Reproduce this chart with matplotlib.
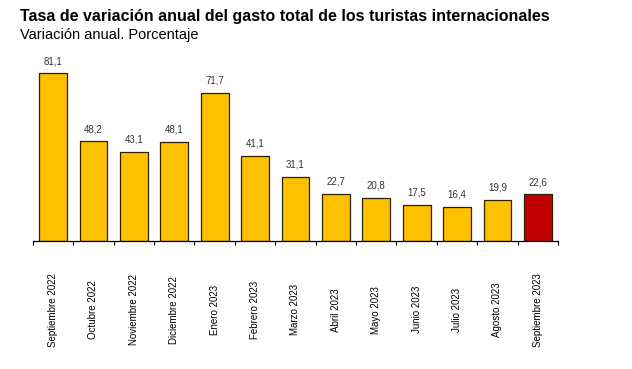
import matplotlib
matplotlib.use("Agg")
import matplotlib.pyplot as plt
from matplotlib.transforms import blended_transform_factory

plt.rcParams['font.family'] = ['Liberation Sans', 'DejaVu Sans']

# Datos
meses = ["Septiembre 2022", "Octubre 2022", "Noviembre 2022", "Diciembre 2022",
         "Enero 2023", "Febrero 2023", "Marzo 2023", "Abril 2023", "Mayo 2023",
         "Junio 2023", "Julio 2023", "Agosto 2023", "Septiembre 2023"]
valores = [81.1, 48.2, 43.1, 48.1, 71.7, 41.1, 31.1, 22.7, 20.8, 17.5, 16.4, 19.9, 22.6]
colores = ["#FFC000"] * 12 + ["#C00000"]

fig = plt.figure(figsize=(6.32, 3.69), dpi=100)
ax = fig.add_axes([0.052, 0.347, 0.831, 0.504])

x = list(range(len(valores)))
ax.bar(x, valores, width=0.69, color=colores, edgecolor="#2b2000", linewidth=0.9, zorder=2)

for xi, v in zip(x, valores):
    ax.text(xi, v + 3.5, f"{v:.1f}".replace(".", ","), ha="center", va="bottom",
            fontsize=7, color="#333333")

ax.set_xlim(-0.5, len(valores) - 0.5)
ax.set_ylim(0, 90)

# Eje
for s in ["top", "right", "left"]:
    ax.spines[s].set_visible(False)
ax.spines["bottom"].set_linewidth(0.9)
ax.set_yticks([])
ax.set_xticks([i - 0.5 for i in range(len(valores) + 1)])
ax.set_xticklabels([])
ax.tick_params(axis="x", length=3, width=0.8, direction="out")

trans = blended_transform_factory(ax.transData, ax.transAxes)
for xi, m in zip(x, meses):
    ax.text(xi, -0.37, m, rotation=90, ha="center", va="center", fontsize=7,
            family=["Liberation Sans Narrow", "Liberation Sans"], transform=trans)

fig.text(0.032, 0.955, "Tasa de variación anual del gasto total de los turistas internacionales",
         fontsize=11.5, fontweight="bold", va="center", ha="left")
fig.text(0.032, 0.905, "Variación anual. Porcentaje", fontsize=10.5, va="center", ha="left")

fig.savefig("out.png", dpi=100)
